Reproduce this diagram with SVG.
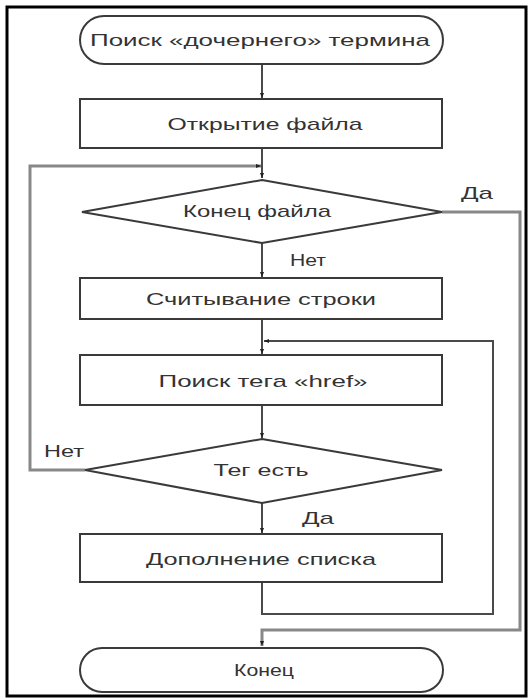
<svg xmlns="http://www.w3.org/2000/svg" width="531" height="699" viewBox="0 0 531 699">
<defs>
<marker id="arr" viewBox="0 0 10 10" refX="10" refY="5" markerWidth="5" markerHeight="5" orient="auto" markerUnits="userSpaceOnUse">
<path d="M0,1 L10,5 L0,9 z" fill="#222"/>
</marker>
<style>
.box{fill:#fff;stroke:#3a3a3a;stroke-width:2}
.t{font-family:"Liberation Sans",Arial,sans-serif;font-size:17px;fill:#333;text-anchor:middle;dominant-baseline:central}
.l{fill:none;stroke:#4a4a4a;stroke-width:2}
.l2{fill:none;stroke:#888;stroke-width:3}
</style>
</defs>
<rect x="0" y="0" width="531" height="699" fill="#fff"/>
<rect x="7" y="7" width="519" height="689" fill="none" stroke="#000" stroke-width="3"/>
<g id="connectors">
<line class="l" x1="262" y1="64" x2="262" y2="98" marker-end="url(#arr)"/>
<line class="l" x1="262" y1="148" x2="262" y2="178" marker-end="url(#arr)"/>
<polyline class="l2" points="85,470 30,470 30,166 261,166" marker-end="url(#arr)"/>
<line class="l" x1="262" y1="243" x2="262" y2="277" marker-end="url(#arr)"/>
<line class="l" x1="262" y1="318" x2="262" y2="354" marker-end="url(#arr)"/>
<polyline class="l" points="262,582 262,614 493,614 493,341 264,341" marker-end="url(#arr)"/>
<line class="l" x1="262" y1="405" x2="262" y2="438" marker-end="url(#arr)"/>
<line class="l" x1="262" y1="503" x2="262" y2="533" marker-end="url(#arr)"/>
<polyline class="l2" points="442,212 520,212 520,630 262,630 262,646" marker-end="url(#arr)"/>
</g>
<g id="start">
<rect class="box" x="80" y="16" width="363" height="48" rx="24" ry="24"/>
<text class="t" x="260" y="40" textLength="340" lengthAdjust="spacingAndGlyphs">Поиск «дочернего» термина</text>
</g>
<g id="open">
<rect class="box" x="80" y="99" width="362" height="49"/>
<text class="t" x="265" y="124" textLength="195" lengthAdjust="spacingAndGlyphs">Открытие файла</text>
</g>
<g id="eof">
<polygon class="box" points="262,180 442,212 262,243 82,212"/>
<text class="t" x="257" y="211" textLength="148" lengthAdjust="spacingAndGlyphs">Конец файла</text>
</g>
<g id="read">
<rect class="box" x="80" y="278" width="362" height="41"/>
<text class="t" x="261" y="299" textLength="230" lengthAdjust="spacingAndGlyphs">Считывание строки</text>
</g>
<g id="search">
<rect class="box" x="80" y="355" width="362" height="50"/>
<text class="t" x="263" y="381" textLength="209" lengthAdjust="spacingAndGlyphs">Поиск тега «href»</text>
</g>
<g id="tag">
<polygon class="box" points="262,439 442,470 262,503 85,470"/>
<text class="t" x="261" y="470" textLength="95" lengthAdjust="spacingAndGlyphs">Тег есть</text>
</g>
<g id="add">
<rect class="box" x="80" y="534" width="362" height="48"/>
<text class="t" x="261" y="559" textLength="230" lengthAdjust="spacingAndGlyphs">Дополнение списка</text>
</g>
<g id="end">
<rect class="box" x="80" y="648" width="363" height="44" rx="22" ry="22"/>
<text class="t" x="264" y="670" textLength="60" lengthAdjust="spacingAndGlyphs">Конец</text>
</g>
<g id="labels">
<text class="t" x="477" y="193" textLength="32" lengthAdjust="spacingAndGlyphs">Да</text>
<text class="t" x="308" y="260" textLength="36" lengthAdjust="spacingAndGlyphs">Нет</text>
<text class="t" x="64" y="451" textLength="40" lengthAdjust="spacingAndGlyphs">Нет</text>
<text class="t" x="318" y="518" textLength="32" lengthAdjust="spacingAndGlyphs">Да</text>
</g>
</svg>
